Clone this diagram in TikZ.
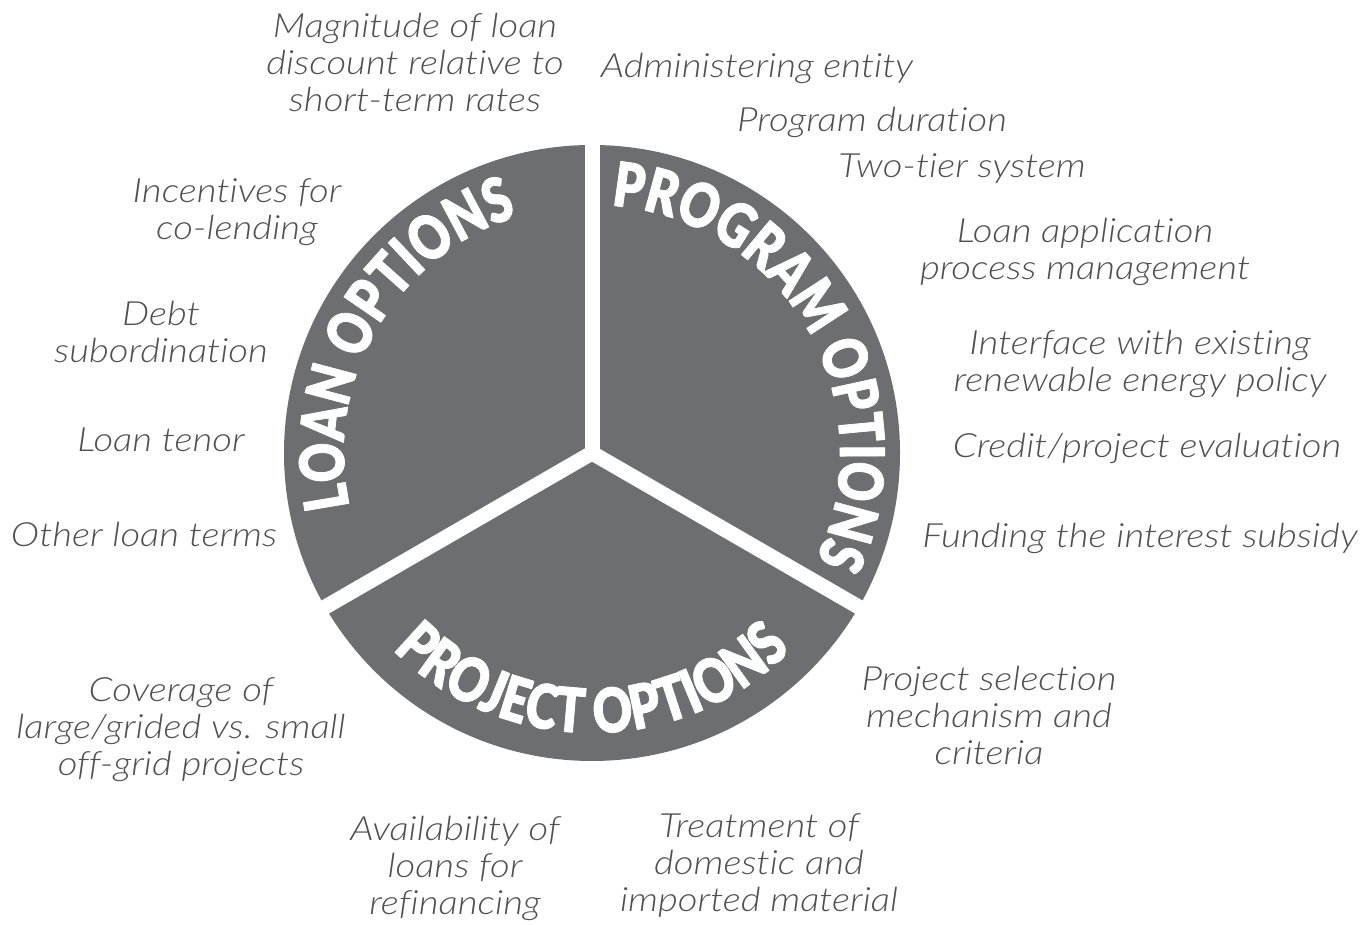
\documentclass[tikz,border=0pt]{standalone}
\usepackage{fontspec}
\usetikzlibrary{decorations.text}
\newfontfamily\lightit{Lato}[UprightFont=* Light Italic, FakeStretch=1.15, Ligatures=NoCommon]
\newfontfamily\optfont{Lato}[UprightFont=* Black, FakeStretch=0.79, FakeBold=1.2]
\definecolor{wheel}{HTML}{6D6E71}
\definecolor{notegray}{HTML}{505052}
\newcommand\wheelfont{\optfont\fontsize{35}{38}\selectfont\color{white}}
\tikzset{
	note/.style={font=\lightit\fontsize{19}{21.3}\selectfont, text=notegray, align=center, anchor=base, inner sep=0pt},
	rim/.style={decorate, decoration={text along path, text align=center, text={|\wheelfont|#1}}}
}
\begin{document}
\begin{tikzpicture}[x=0.02cm, y=0.02cm, line join=round]
	\useasboundingbox (0,0) rectangle (1362,925);
	\path (592,472) coordinate (O);
	% wheel and the three white cuts
	\fill[wheel] (O) circle (308);
	\foreach \a in {90,210,330} \draw[white, line width=0.3cm] (O) -- ++(\a:330);
	% curved titles
	\path[rim=LOAN OPTIONS] ([shift={(210:248)}]O) arc[start angle=210, end angle=90, radius=248];
	\path[rim=PROGRAM OPTIONS] ([shift={(90:248)}]O) arc[start angle=90, end angle=-30, radius=248];
	\path[rim=PROJECT OPTIONS] ([shift={(210:280)}]O) arc[start angle=210, end angle=330, radius=280];
	% loan options (base = last line)
	\node[note] (magnitude) at (415,813) {Magnitude of loan\\discount relative to\\short-term rates};
	\node[note] (colend) at (237,685) {Incentives for\\co-lending};
	\node[note] (debt) at (161,562) {Debt\\subordination};
	\node[note] (tenor) at (161,473) {Loan tenor};
	\node[note] (terms) at (144,378) {Other loan terms};
	% program options
	\node[note] (entity) at (757,847) {Administering entity};
	\node[note] (duration) at (872,793) {Program duration};
	\node[note] (tier) at (962,747) {Two-tier system};
	\node[note] (process) at (1085,645) {Loan application\\process management};
	\node[note] (policy) at (1140,533) {Interface with existing\\renewable energy policy};
	\node[note] (credit) at (1147,467) {Credit/project evaluation};
	\node[note] (subsidy) at (1140,377) {Funding the interest subsidy};
	% project options
	\node[note] (selection) at (989,160) {Project selection\\mechanism and\\criteria};
	\node[note] (material) at (759,13) {Treatment of\\domestic and\\imported material};
	\node[note] (refinance) at (455,10) {Availability of\\loans for\\refinancing};
	\node[note] (coverage) at (181,149) {Coverage of\\large/grided vs. small\\off-grid projects};
\end{tikzpicture}
\end{document}
